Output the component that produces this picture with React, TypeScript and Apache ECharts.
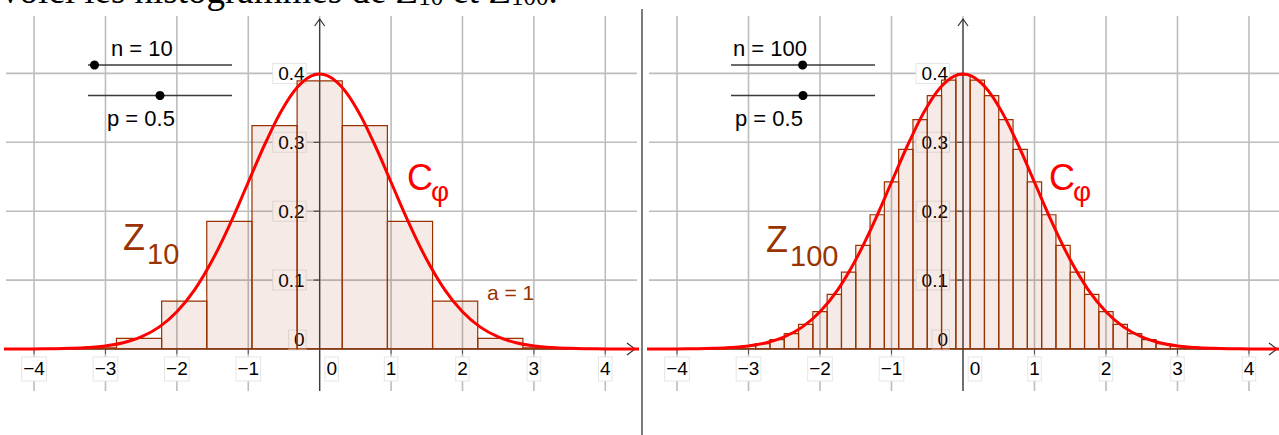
import React, { useEffect, useRef } from "react";
import * as echarts from "echarts";

// ---- axis ticks ----
const X_TICKS = [-4, -3, -2, -1, 0, 1, 2, 3, 4];
const X_TICK_LABELS = ["\u22124", "\u22123", "\u22122", "\u22121", "0", "1", "2", "3", "4"];
const Y_TICKS = [0, 0.1, 0.2, 0.3, 0.4];
const Y_TICK_LABELS = ["0", "0.1", "0.2", "0.3", "0.4"];

// ---- Z10 histogram (n = 10, p = 0.5): bar centres and heights ----
const Z10_CENTERS = [-3.162, -2.53, -1.897, -1.265, -0.632, 0, 0.632, 1.265, 1.897, 2.53, 3.162];
const Z10_HEIGHTS = [0.0015, 0.0154, 0.0695, 0.1853, 0.3243, 0.3891, 0.3243, 0.1853, 0.0695, 0.0154, 0.0015];
const Z10_BAR_WIDTH = 0.6325;

// ---- Z100 histogram (n = 100, p = 0.5): bar centres and heights ----
const Z100_CENTERS = [
  -4.0, -3.8, -3.6, -3.4, -3.2, -3.0, -2.8, -2.6, -2.4, -2.2, -2.0, -1.8, -1.6, -1.4, -1.2, -1.0, -0.8, -0.6, -0.4, -0.2,
  0.0, 0.2, 0.4, 0.6, 0.8, 1.0, 1.2, 1.4, 1.6, 1.8, 2.0, 2.2, 2.4, 2.6, 2.8, 3.0, 3.2, 3.4, 3.6, 3.8, 4.0,
];
const Z100_HEIGHTS = [
  0.0001, 0.0003, 0.0006, 0.0012, 0.0023, 0.0043, 0.0078, 0.0135, 0.0224, 0.0356, 0.0542, 0.0793, 0.1115, 0.1503, 0.1948,
  0.2424, 0.2898, 0.333, 0.3676, 0.3901, 0.3979, 0.3901, 0.3676, 0.333, 0.2898, 0.2424, 0.1948, 0.1503, 0.1115, 0.0793,
  0.0542, 0.0356, 0.0224, 0.0135, 0.0078, 0.0043, 0.0023, 0.0012, 0.0006, 0.0003, 0.0001,
];
const Z100_BAR_WIDTH = 0.2;

// ---- curve C_phi (standard normal density), sampled points ----
const CURVE_X = [
  -4.5, -4.25, -4.0, -3.75, -3.5, -3.25, -3.0, -2.75, -2.5, -2.25, -2.0, -1.75, -1.5, -1.25, -1.0, -0.75, -0.5, -0.25, 0,
  0.25, 0.5, 0.75, 1.0, 1.25, 1.5, 1.75, 2.0, 2.25, 2.5, 2.75, 3.0, 3.25, 3.5, 3.75, 4.0, 4.25, 4.5,
];
const CURVE_Y = [
  0.00002, 0.00005, 0.00013, 0.00035, 0.00087, 0.00203, 0.00443, 0.00909, 0.01753, 0.03174, 0.05399, 0.08628, 0.12952,
  0.18265, 0.24197, 0.30114, 0.35207, 0.38667, 0.39894, 0.38667, 0.35207, 0.30114, 0.24197, 0.18265, 0.12952, 0.08628,
  0.05399, 0.03174, 0.01753, 0.00909, 0.00443, 0.00203, 0.00087, 0.00035, 0.00013, 0.00005, 0.00002,
];

// ---- slider values ----
const N_VALUES = [10, 100];
const P_VALUES = [0.5, 0.5];
const N_RANGE = [1, 200];
const P_RANGE = [0, 1];

// ---- layout ----
const W = 1279;
const H = 435;
const GRIDS = [
  { left: 6, top: 16, width: 631, height: 375 },
  { left: 649, top: 16, width: 630, height: 375 },
];
const X_RANGES = [
  [-4.393, 4.444],
  [-4.392, 4.42],
];
const Y_RANGE = [-0.061, 0.4833];

const GRID_COLOR = "#bdbdbd";
const AXIS_COLOR = "#333333";
const BROWN = "#993300";
const RED = "#ff0000";
const SANS = "Liberation Sans";
const SERIF = "Liberation Serif";

const line = (x1: number, y1: number, x2: number, y2: number, stroke: string, lineWidth: number) => ({
  type: "line",
  shape: { x1, y1, x2, y2 },
  style: { stroke, lineWidth },
});

const tickLabel = (text: string, x: number, y: number, align: string) => ({
  type: "text",
  x,
  y,
  style: {
    text,
    fontSize: 19,
    fontFamily: SANS,
    fill: "#000",
    align,
    verticalAlign: "middle",
    backgroundColor: "#ffffff",
    borderColor: "#e6e6e6",
    borderWidth: 1,
    padding: align === "right" ? [0, 1, 0, 5] : [2, 1, 2, 1],
  },
});

// gridlines, axes with open arrowheads, ticks and tick labels of one view
function frameSeries(gi: number) {
  return {
    type: "custom",
    xAxisIndex: gi,
    yAxisIndex: gi,
    z: 1,
    silent: true,
    clip: false,
    data: [[0, 0]],
    renderItem: (params: any, api: any) => {
      const cs = params.coordSys;
      const L = cs.x;
      const T = cs.y;
      const R = cs.x + cs.width;
      const B = cs.y + cs.height;
      const o = api.coord([0, 0]);
      const ox = o[0];
      const oy = o[1];
      const kids: any[] = [];
      X_TICKS.forEach((t) => {
        const x = api.coord([t, 0])[0];
        kids.push(line(x, T, x, B, GRID_COLOR, 1.6));
      });
      Y_TICKS.forEach((t) => {
        const y = api.coord([0, t])[1];
        kids.push(line(L, y, R, y, GRID_COLOR, 1.6));
      });
      const tipX = R - 2;
      kids.push(line(L, oy, tipX, oy, AXIS_COLOR, 1.2));
      kids.push({
        type: "polyline",
        shape: { points: [[tipX - 8, oy - 6], [tipX, oy], [tipX - 8, oy + 6]] },
        style: { stroke: AXIS_COLOR, lineWidth: 1.2, fill: "none" },
      });
      const tipY = T + 3;
      kids.push(line(ox, B, ox, tipY, AXIS_COLOR, 1.2));
      kids.push({
        type: "polyline",
        shape: { points: [[ox - 5, tipY + 7], [ox, tipY], [ox + 5, tipY + 7]] },
        style: { stroke: AXIS_COLOR, lineWidth: 1.2, fill: "none" },
      });
      X_TICKS.forEach((t) => {
        if (t === 0) return;
        const x = api.coord([t, 0])[0];
        kids.push(line(x, oy, x, oy + 5, "#555", 1));
      });
      Y_TICKS.forEach((t) => {
        if (t === 0) return;
        const y = api.coord([0, t])[1];
        kids.push(line(ox - 6, y, ox, y, "#333", 1));
      });
      X_TICKS.forEach((t, i) => {
        const x = api.coord([t, 0])[0] + (t === 0 ? 12 : 0);
        kids.push(tickLabel(X_TICK_LABELS[i], x, oy + 20, "center"));
      });
      Y_TICKS.forEach((t, i) => {
        const y = api.coord([0, t])[1] - (t === 0 ? 9 : 0);
        kids.push(tickLabel(Y_TICK_LABELS[i], ox - 14, y, "right"));
      });
      return { type: "group", children: kids };
    },
  };
}

// histogram bars drawn from centre, width and height in data units
function histogramSeries(gi: number, centers: number[], heights: number[], barWidth: number) {
  return {
    type: "custom",
    xAxisIndex: gi,
    yAxisIndex: gi,
    z: 3,
    silent: true,
    clip: true,
    data: centers.map((c, i) => [c, heights[i]]),
    encode: { x: 0, y: 1 },
    renderItem: (params: any, api: any) => {
      const c = api.value(0);
      const h = api.value(1);
      const p0 = api.coord([c - barWidth / 2, h]);
      const p1 = api.coord([c + barWidth / 2, 0]);
      return {
        type: "rect",
        shape: { x: p0[0], y: p0[1], width: p1[0] - p0[0], height: p1[1] - p0[1] },
        style: { fill: "rgba(153,51,0,0.1)", stroke: BROWN, lineWidth: 1.2 },
      };
    },
  };
}

function curveSeries(gi: number) {
  return {
    type: "line",
    xAxisIndex: gi,
    yAxisIndex: gi,
    z: 4,
    silent: true,
    clip: true,
    smooth: 0.4,
    symbol: "none",
    showSymbol: false,
    data: CURVE_X.map((x, i) => [x, CURVE_Y[i]]),
    lineStyle: { color: RED, width: 3 },
  };
}

const text = (t: string, x: number, y: number, size: number, fill: string) => ({
  type: "text",
  x,
  y,
  z: 10,
  style: { text: t, fontSize: size, fontFamily: SANS, fill, align: "left", verticalAlign: "middle" },
});

function sliderGraphics(x0: number, x1: number, y: number, value: number, range: number[]) {
  const cx = x0 + ((value - range[0]) / (range[1] - range[0])) * (x1 - x0);
  return [
    { type: "line", z: 10, shape: { x1: x0, y1: y, x2: x1, y2: y }, style: { stroke: "#3a3a3a", lineWidth: 1.3 } },
    { type: "circle", z: 11, shape: { cx, cy: y, r: 4.5 }, style: { fill: "#000" } },
  ];
}

const SLIDER_X = [
  [88, 232],
  [731, 875],
];
const SLIDER_Y = [65, 95.5];
const N_TEXT_POS = [
  [111, 48],
  [733, 48],
];
const P_TEXT_POS = [
  [107, 118],
  [735, 118],
];
const Z_POS = [
  [123, 237],
  [766, 239],
];
const C_POS = [
  [407, 177],
  [1049, 177],
];

function buildGraphics() {
  const g: any[] = [];
  // sentence above the views
  g.push({
    type: "text",
    x: 1,
    y: -28,
    z: 10,
    style: {
      text: "voici les histogrammes de Z{s|10} et Z{s|100}.",
      fontSize: 37,
      fontFamily: SERIF,
      fill: "#000",
      lineHeight: 37,
      verticalAlign: "top",
      rich: { s: { fontSize: 25, fontFamily: SERIF, lineHeight: 23, verticalAlign: "bottom", fill: "#000" } },
    },
  });
  // separator between the two views
  g.push({ type: "line", z: 10, shape: { x1: 642, y1: 9, x2: 642, y2: H }, style: { stroke: "#444", lineWidth: 1.4 } });

  const subs = ["10", "100"];
  [0, 1].forEach((i) => {
    g.push(text(`n = ${N_VALUES[i]}`, N_TEXT_POS[i][0], N_TEXT_POS[i][1], 22, "#000"));
    g.push(text(`p = ${P_VALUES[i]}`, P_TEXT_POS[i][0], P_TEXT_POS[i][1], 22, "#000"));
    g.push(...sliderGraphics(SLIDER_X[i][0], SLIDER_X[i][1], SLIDER_Y[0], N_VALUES[i], N_RANGE));
    g.push(...sliderGraphics(SLIDER_X[i][0], SLIDER_X[i][1], SLIDER_Y[1], P_VALUES[i], P_RANGE));
    // Z_n label
    g.push(text("Z", Z_POS[i][0], Z_POS[i][1], 36, BROWN));
    g.push(text(subs[i], Z_POS[i][0] + 24, Z_POS[i][1] + 17, 29, BROWN));
    // C_phi label
    g.push(text("C", C_POS[i][0], C_POS[i][1], 36, RED));
    g.push(text("\u03c6", C_POS[i][0] + 24, C_POS[i][1] + 14, 28, RED));
  });
  g.push(text("a = 1", 487, 292, 21, BROWN));
  return g;
}

function buildOption() {
  return {
    animation: false,
    backgroundColor: "#ffffff",
    grid: GRIDS.map((g) => ({ ...g, containLabel: false })),
    xAxis: X_RANGES.map((r, i) => ({ type: "value", gridIndex: i, min: r[0], max: r[1], show: false })),
    yAxis: [0, 1].map((i) => ({ type: "value", gridIndex: i, min: Y_RANGE[0], max: Y_RANGE[1], show: false })),
    series: [
      frameSeries(0),
      frameSeries(1),
      histogramSeries(0, Z10_CENTERS, Z10_HEIGHTS, Z10_BAR_WIDTH),
      histogramSeries(1, Z100_CENTERS, Z100_HEIGHTS, Z100_BAR_WIDTH),
      curveSeries(0),
      curveSeries(1),
    ],
    graphic: buildGraphics(),
  };
}

export default function App() {
  const ref = useRef<HTMLDivElement>(null);
  useEffect(() => {
    document.body.style.margin = "0";
    const chart = echarts.init(ref.current as HTMLDivElement, undefined, { renderer: "svg", width: W, height: H });
    chart.setOption(buildOption() as any);
    return () => chart.dispose();
  }, []);
  return (
    <div
      ref={ref}
      style={{ position: "fixed", left: 0, top: 0, width: W, height: H, background: "#ffffff", overflow: "hidden" }}
    />
  );
}
